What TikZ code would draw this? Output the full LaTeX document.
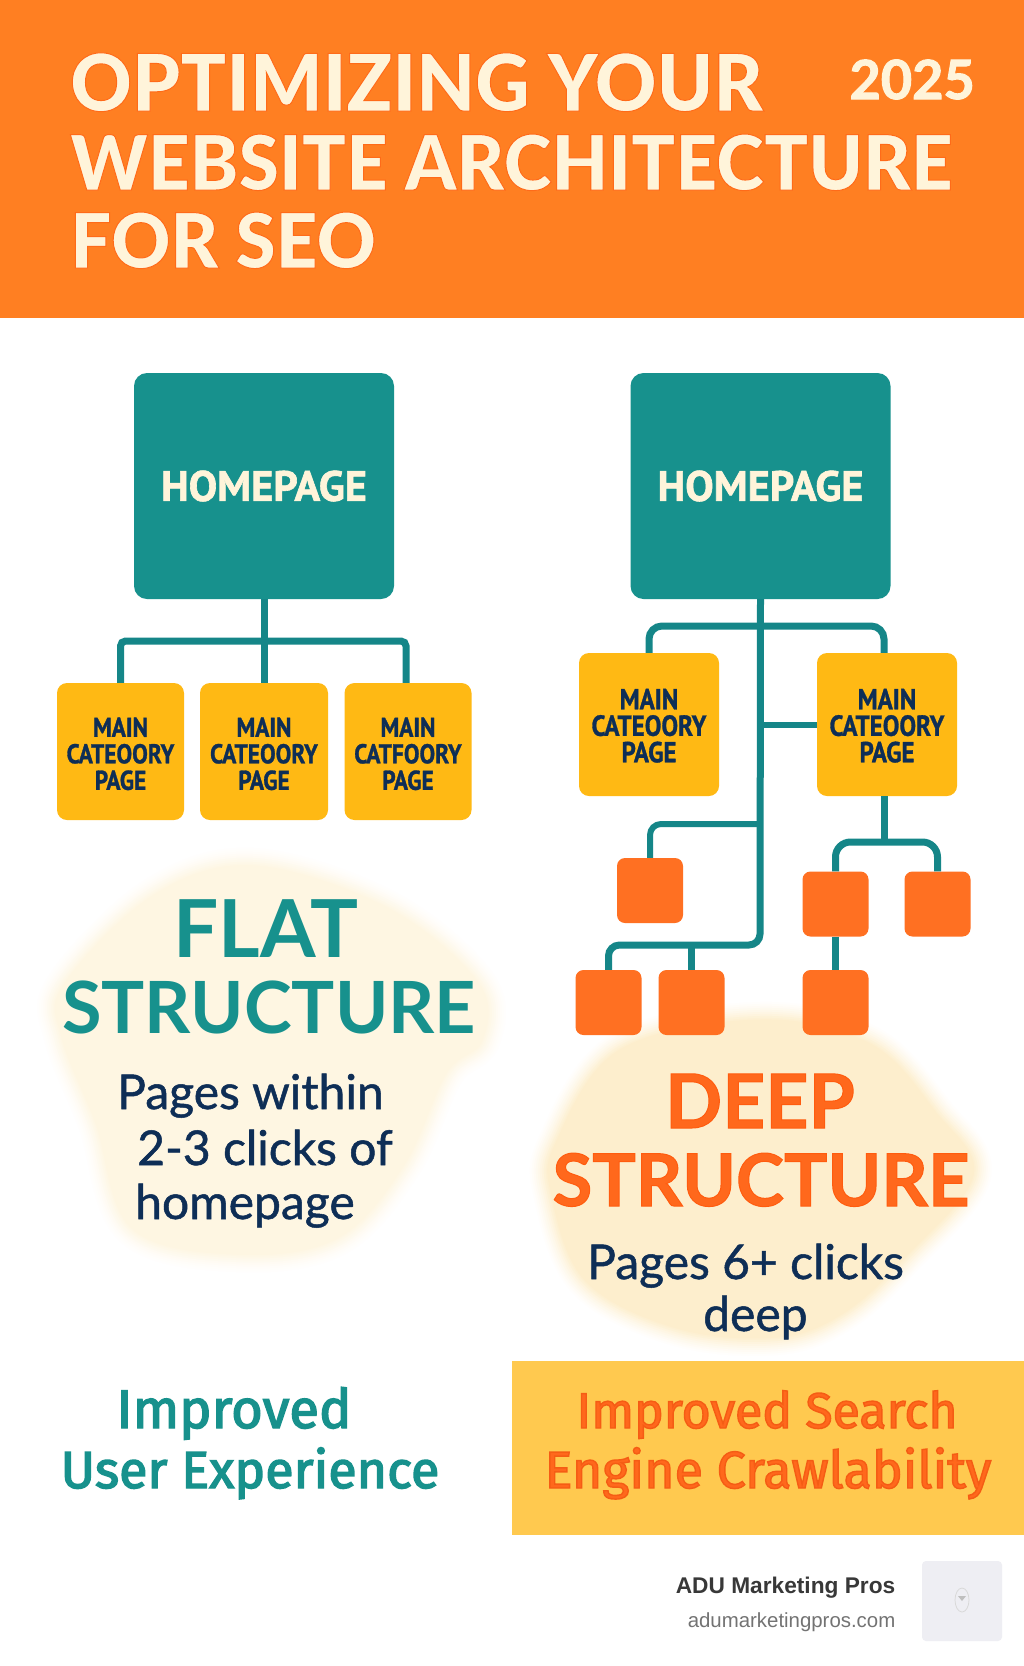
\documentclass[tikz,border=0pt]{standalone}
\usepackage{fontspec}
\setmainfont{Lato}
\newfontfamily\latoblack[FakeStretch=0.96]{Lato Black}
\newfontfamily\fira{Fira Sans}
\newfontfamily\ptsans{PT Sans}
\newfontfamily\ptnarrow[FakeStretch=0.86]{PT Sans}
\newfontfamily\liberation{Liberation Sans}
\usetikzlibrary{positioning}
\definecolor{hdr}{RGB}{255,127,34}
\definecolor{cream}{RGB}{255,244,218}
\definecolor{teal}{RGB}{23,145,141}
\definecolor{tealline}{RGB}{21,134,136}
\definecolor{amber}{RGB}{255,185,20}
\definecolor{navy}{RGB}{14,46,86}
\definecolor{leaf}{RGB}{255,112,34}
\definecolor{deep}{RGB}{255,104,28}
\definecolor{band}{RGB}{255,201,79}
\definecolor{blobA}{RGB}{254,246,226}
\definecolor{blobB}{RGB}{253,238,205}
\definecolor{footbox}{RGB}{238,238,243}
\newcommand{\strokedtext}[3][1]{\special{pdf:code 2 Tr #1 w #2 RG}#3\special{pdf:code 0 Tr}}
\newcommand{\softblob}[2]{\foreach \w/\p in {36/6,32/13,28/22,24/32,20/43,16/55,12/67,8/79,4/90,1/100}
  {\draw[draw=#1!\p!white,fill=#1!\p!white,line width=\w pt,line join=round]
    plot[smooth cycle,tension=0.6] coordinates {#2};}}
\begin{document}
\begin{tikzpicture}[x=1pt,y=-1pt,
  wire/.style={tealline,line width=7pt},
  homebox/.style={fill=teal,rounded corners=13pt,minimum width=260pt,minimum height=226pt,inner sep=0pt,text=cream,font=\ptsans\bfseries\fontsize{42.5}{42.5}\selectfont},
  catbox/.style={fill=amber,rounded corners=10pt,inner sep=0pt,align=center,text=navy},
  leafbox/.style={fill=leaf,rounded corners=8pt,minimum width=66pt,minimum height=65pt,inner sep=0pt},
  headtext/.style={anchor=base,inner sep=0pt,font=\bfseries\fontsize{#1}{#1}\selectfont},
  bodytext/.style={anchor=base west,inner sep=0pt,text=navy,font=\fontsize{48}{48}\selectfont},
  titletext/.style={anchor=base west,inner sep=0pt,text=cream,font=\latoblack\fontsize{#1}{#1}\selectfont},
  gaintext/.style={anchor=base,inner sep=0pt,font=\fira\fontsize{#1}{#1}\selectfont}]

\path[use as bounding box,fill=white] (0,0) rectangle (1024,1666);

% header
\fill[hdr] (0,0) rectangle (1024,318);
\node[titletext=79] (titleA) at (70,111) {\strokedtext{1 0.42 0.1}{OPTIMIZING YOUR}};
\node[titletext=76] (titleB) at (70,190) {\strokedtext{1 0.42 0.1}{WEBSITE ARCHITECTURE}};
\node[titletext=76] (titleC) at (70,268) {\strokedtext{1 0.42 0.1}{FOR SEO}};
\node[anchor=base east,inner sep=0pt,text=cream,font=\bfseries\fontsize{54}{54}\selectfont] (year) at (975,99) {\strokedtext{1 0.96 0.855}{2025}};

% soft patches behind the captions
\softblob{blobA}{(253,866) (153,896) (64,985) (62,1037) (96,1123) (132,1228) (237,1254) (337,1238) (403,1166) (446,1073) (482,1040) (478,983) (387,908)}
\softblob{blobB}{(760,1020) (620,1050) (556,1143) (552,1196) (586,1281) (677,1328) (777,1337) (843,1313) (906,1256) (973,1175) (936,1113) (870,1044)}

% flat side
\node[homebox] (homeL) at (264,486) {\strokedtext[0.6]{1 0.96 0.855}{HOMEPAGE}};
\node[catbox,minimum width=127pt,minimum height=137pt,text height=77pt,font=\ptnarrow\bfseries\fontsize{27.2}{26.5}\selectfont] (catLA) at (120.5,751.5) {\strokedtext[0.3]{0.055 0.18 0.34}{MAIN\\CATEOORY\\PAGE}};
\node[catbox,minimum width=128pt,minimum height=137pt,text height=77pt,font=\ptnarrow\bfseries\fontsize{27.2}{26.5}\selectfont] (catLB) at (264,751.5) {\strokedtext[0.3]{0.055 0.18 0.34}{MAIN\\CATEOORY\\PAGE}};
\node[catbox,minimum width=127pt,minimum height=137pt,text height=77pt,font=\ptnarrow\bfseries\fontsize{27.2}{26.5}\selectfont] (catLC) at (408,751.5) {\strokedtext[0.3]{0.055 0.18 0.34}{MAIN\\CATFOORY\\PAGE}};
\coordinate (jointL) at (264,641);

\draw[wire] (homeL.south) -- (catLB.north);
\draw[wire,rounded corners=5pt] (catLA.north) |- (jointL) -| ([xshift=-2pt]catLC.north);

\node[headtext=80,text=teal] (flatA) at (266,957) {FLAT};
\node[headtext=72,text=teal] (flatB) at (269,1033) {STRUCTURE};
\node[bodytext] (flatC) at (117,1109) {\strokedtext[0.5]{0.055 0.18 0.34}{Pages within}};
\node[bodytext] (flatD) at (137,1165) {\strokedtext[0.5]{0.055 0.18 0.34}{2-3 clicks of}};
\node[bodytext] (flatE) at (135,1219) {\strokedtext[0.5]{0.055 0.18 0.34}{homepage}};

% deep side
\node[homebox] (homeR) at (760.5,486) {\strokedtext[0.6]{1 0.96 0.855}{HOMEPAGE}};
\node[catbox,minimum width=140pt,minimum height=143pt,text height=76pt,font=\ptnarrow\bfseries\fontsize{29}{26.5}\selectfont] (catRA) at (649,724.5) {\strokedtext[0.3]{0.055 0.18 0.34}{MAIN\\CATEOORY\\PAGE}};
\node[catbox,minimum width=140pt,minimum height=143pt,text height=76pt,font=\ptnarrow\bfseries\fontsize{29}{26.5}\selectfont] (catRB) at (887,724.5) {\strokedtext[0.3]{0.055 0.18 0.34}{MAIN\\CATEOORY\\PAGE}};
\node[leafbox] (leafA) at (650,890.5) {};
\node[leafbox] (leafB) at (608.5,1002.5) {};
\node[leafbox] (leafC) at (691.5,1002.5) {};
\node[leafbox] (leafD) at (835.5,904) {};
\node[leafbox] (leafE) at (937.5,904) {};
\node[leafbox] (leafF) at (835.5,1002.5) {};
\coordinate (jointTop) at (760,626);
\coordinate (jointMid) at (760,824);
\coordinate (jointLow) at (760,945);
\coordinate (jointCat) at (884,842);

\draw[wire,rounded corners=11pt] (homeR.south) -- (jointLow) -- (leafB.north |- jointLow) -- (leafB.north);
\draw[wire,rounded corners=13pt] (catRA.north) |- (jointTop) -| ([xshift=-3pt]catRB.north);
\draw[wire,line width=6pt] (jointTop |- catRB.west) -- (catRB.west);
\draw[wire,line width=6pt,rounded corners=11pt] (jointMid) -| (leafA.north);
\draw[wire] (leafC.north |- jointLow) -- (leafC.north);
\draw[wire] ([xshift=-3pt]catRB.south) -- (jointCat);
\draw[wire,rounded corners=15pt] (leafD.north) |- (jointCat) -| (leafE.north);
\draw[wire] (leafD.south) -- (leafF.north);

\node[headtext=75,text=deep] (deepA) at (760,1128) {\strokedtext{1 0.36 0.06}{DEEP}};
\node[headtext=72.5,text=deep] (deepB) at (761,1206) {\strokedtext{1 0.36 0.06}{STRUCTURE}};
\node[bodytext] (deepC) at (587,1279) {\strokedtext[0.5]{0.055 0.18 0.34}{Pages 6+ clicks}};
\node[bodytext] (deepD) at (703,1331) {\strokedtext[0.5]{0.055 0.18 0.34}{deep}};

% benefits
\fill[band] (512,1361) rectangle (1024,1535);
\node[gaintext=50,text=deep] (gainRA) at (767,1428) {\strokedtext[1.4]{0.96 0.36 0.08}{Improved Search}};
\node[gaintext=52,text=deep] (gainRB) at (768,1488) {\strokedtext[1.4]{0.96 0.36 0.08}{Engine Crawlability}};
\node[gaintext=54.5,text=teal] (gainLA) at (234,1428) {\strokedtext[1.4]{0.09 0.57 0.55}{Improved}};
\node[gaintext=52,text=teal] (gainLB) at (250,1488) {\strokedtext[1.4]{0.09 0.57 0.55}{User Experience}};

% footer
\node[anchor=base east,inner sep=0pt,text=black!78,font=\liberation\bfseries\fontsize{22.7}{22.7}\selectfont] (brand) at (895.5,1593) {ADU Marketing Pros};
\node[anchor=base east,inner sep=0pt,text=black!55,font=\liberation\fontsize{20.4}{20.4}\selectfont] (site) at (895.5,1627) {adumarketingpros.com};
\fill[footbox,rounded corners=4pt] (922,1561) rectangle (1002,1641);
\draw[black!15,line width=0.8pt] (962,1600) ellipse [x radius=7,y radius=12];
\fill[black!25] (958,1596) -- (966,1596) -- (962,1601) -- cycle;
\end{tikzpicture}
\end{document}
